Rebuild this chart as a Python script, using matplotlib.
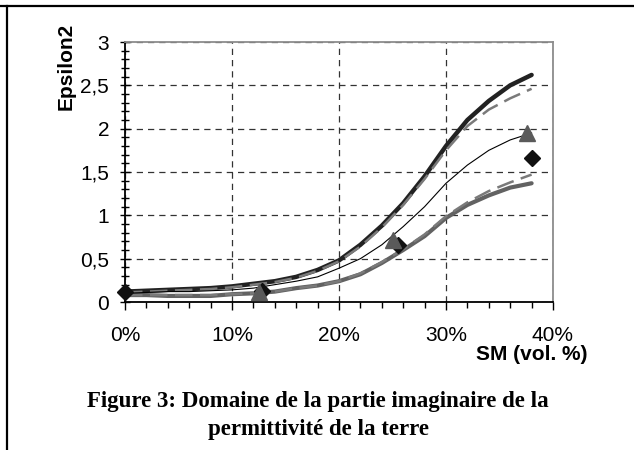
import numpy as np
import matplotlib.pyplot as plt
from matplotlib.lines import Line2D

# soil moisture (vol. %)
sm = [0, 2, 4, 6, 8, 10, 12, 14, 16, 18, 20, 22, 24, 26, 28, 30, 32, 34, 36, 38]

# curves of Epsilon2
upper_max = [0.12, 0.13, 0.14, 0.15, 0.16, 0.18, 0.21, 0.24, 0.29, 0.37, 0.48, 0.66, 0.88,
             1.14, 1.45, 1.80, 2.10, 2.32, 2.50, 2.62]
upper_dash = [0.11, 0.12, 0.13, 0.14, 0.15, 0.17, 0.20, 0.23, 0.28, 0.36, 0.47, 0.64, 0.86,
              1.12, 1.42, 1.75, 2.03, 2.22, 2.35, 2.46]
middle = [0.10, 0.11, 0.12, 0.12, 0.13, 0.14, 0.16, 0.20, 0.24, 0.29, 0.39, 0.50, 0.66,
          0.87, 1.10, 1.37, 1.58, 1.75, 1.87, 1.95]
lower_min = [0.08, 0.08, 0.07, 0.07, 0.07, 0.09, 0.10, 0.12, 0.16, 0.19, 0.24, 0.32, 0.45,
             0.60, 0.76, 0.97, 1.12, 1.23, 1.32, 1.37]
lower_dash = [0.08, 0.08, 0.08, 0.08, 0.08, 0.09, 0.10, 0.12, 0.16, 0.19, 0.24, 0.33, 0.46,
              0.61, 0.78, 0.99, 1.15, 1.28, 1.38, 1.47]

# measured points
tri_x = [12.5, 25, 37.6]
tri_y = [0.12, 0.72, 1.95]
dia_x = [0, 12.8, 25.5, 38]
dia_y = [0.11, 0.13, 0.66, 1.66]

xticks = [0, 10, 20, 30, 40]
xtick_labels = ['0%', '10%', '20%', '30%', '40%']
yticks = [0, 0.5, 1, 1.5, 2, 2.5, 3]
ytick_labels = ['0', '0,5', '1', '1,5', '2', '2,5', '3']

plt.rcParams['font.family'] = 'Liberation Sans'

fig = plt.figure(figsize=(6.34, 4.5), dpi=100)
ax = fig.add_axes([125/634, 1 - 302/450, (553 - 125)/634, (302 - 42)/450])

ax.plot(sm, lower_min, color='#626262', lw=3.0, solid_capstyle='round', zorder=3)
ax.plot(sm, lower_dash, color='#7a7a7a', lw=1.8, dashes=(7, 3), zorder=3)
ax.plot(sm, upper_max, color='#222222', lw=3.2, solid_capstyle='round', zorder=3)
ax.plot(sm, upper_dash, color='#7a7a7a', lw=1.8, dashes=(7, 3), zorder=3)
ax.plot(sm, middle, color='black', lw=0.8, zorder=3)

ax.plot(dia_x, dia_y, 'D', color='#111111', ms=8.5, ls='none', zorder=4, clip_on=False)
ax.plot(tri_x, tri_y, '^', color='#5a5a5a', ms=11, ls='none', zorder=5, clip_on=False)

ax.set_xlim(0, 40)
ax.set_ylim(0, 3)
ax.set_xticks(xticks)
ax.set_xticklabels(xtick_labels, fontsize=15)
ax.set_yticks(yticks)
ax.set_yticklabels(ytick_labels, fontsize=15)
ax.set_xticks(np.arange(0, 41, 2), minor=True)
ax.set_yticks(np.arange(0, 3.01, 0.1), minor=True)

ax.tick_params(axis='x', which='major', direction='out', length=6, width=1, pad=11)
ax.tick_params(axis='x', which='minor', direction='out', length=4, width=1)
ax.tick_params(axis='y', which='major', direction='inout', length=7, width=1, pad=8)
ax.tick_params(axis='y', which='minor', direction='inout', length=6, width=1)

ax.grid(True, which='major', color='#333333', lw=0.9, dashes=(5, 4))

for s in ['left', 'bottom']:
    ax.spines[s].set_color('black')
    ax.spines[s].set_linewidth(1.3)
for s in ['top', 'right']:
    ax.spines[s].set_color('#8c8c8c')
    ax.spines[s].set_linewidth(1.3)

fig.text(66/634, 1 - 66/450, 'Epsilon2', rotation=90, fontsize=15, fontweight='bold',
         ha='center', va='center')
fig.text(588/634, 1 - 345/450, 'SM (vol. %)', fontsize=15, fontweight='bold',
         ha='right', va='top')

fig.text(318/634, 1 - 401/450, 'Figure 3: Domaine de la partie imaginaire de la',
         fontsize=16.5, fontweight='bold', family='Liberation Serif', ha='center', va='center')
fig.text(318/634, 1 - 430/450, 'permittivité de la terre',
         fontsize=16.5, fontweight='bold', family='Liberation Serif', ha='center', va='center')

# page frame lines
fig.add_artist(Line2D([0, 1], [1 - 6/450, 1 - 6/450], color='black', lw=1.6,
                      transform=fig.transFigure))
fig.add_artist(Line2D([7/634, 7/634], [0, 1 - 6/450], color='black', lw=1.6,
                      transform=fig.transFigure))

fig.savefig('out.png', dpi=100)
